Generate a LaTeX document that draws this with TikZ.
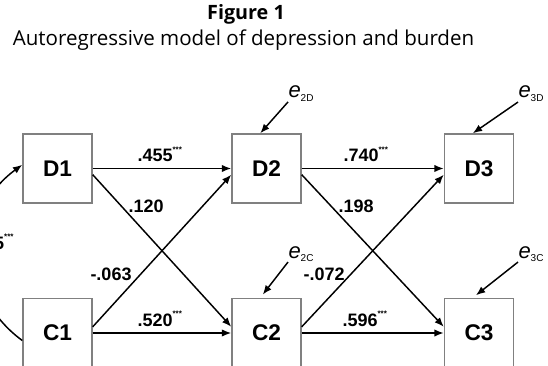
\documentclass[tikz,border=0pt]{standalone}
\usepackage{fontspec}
\setmainfont{Liberation Sans}
\newfontfamily\titlefont{Open Sans}
\usetikzlibrary{arrows.meta}

\tikzset{every picture/.style={line width=0.75pt}}
\newcommand{\stars}{\raisebox{0.55em}{\fontsize{6}{6}\selectfont ***}}

\begin{document}
\begin{tikzpicture}[x=0.75pt,y=0.75pt,yscale=-1,xscale=1,
  var/.style={draw={rgb, 255:red, 128; green, 128; blue, 128},line width=1.1pt,minimum width=51.75pt,minimum height=51.75pt,inner sep=0pt,font=\fontsize{17}{20}\selectfont\bfseries},
  link/.style={-{Latex[length=7pt,width=5.5pt]},line width=1.1pt},
  coef/.style={anchor=base west,inner sep=0pt,font=\fontsize{13.5}{16}\selectfont\bfseries},
  err/.style={anchor=base west,inner sep=0pt,font=\fontsize{16.5}{18}\selectfont}]
\useasboundingbox (0,0) rectangle (548,366);
\clip (0,0) rectangle (548,366);

% Text Node
\node (title) at (246,20) [anchor=base,inner sep=0pt,font=\titlefont\fontsize{14.8}{17}\selectfont\bfseries] {Figure 1};
% Text Node
\node (subtitle) at (243.5,46) [anchor=base,inner sep=0pt,font=\titlefont\fontsize{15.4}{17}\selectfont] {Autoregressive model of depression and burden};

%Shape: Square
\node [var] (D1) at (57.5,168.5) {D1};
\node [var] (D2) at (266.5,168.5) {D2};
\node [var] (D3) at (479,168.5) {D3};
\node [var] (C1) at (57.5,333) {C1};
\node [var] (C2) at (266.5,333) {C2};
\node [var] (C3) at (479,333) {C3};

%Straight Lines
\draw [link] (D1.east) -- (D2.west);
\draw [link] (D2.east) -- (D3.west);
\draw [link] (C1.east) -- (C2.west);
\draw [link] (C2.east) -- (C3.west);
\draw [link] (D1.-10) -- (C2.170);
\draw [link] (C1.10) -- (D2.190);
\draw [link] (D2.-10) -- (C3.170);
\draw [link] (C2.10) -- (D3.190);

%Curve Lines
\draw [link,{Latex[length=7pt,width=5.5pt]}-] (D1.174) .. controls (-40,210) and (-40,295) .. (C1.192);

% Text Node
\node [coef] (b455) at (137,162) {.455\stars};
\node [coef] (b740) at (343,162) {.740\stars};
\node [coef] (b120) at (128,213) {.120};
\node [coef] (b063) at (90,280) {-.063};
\node [coef] (b520) at (137,326) {.520\stars};
\node [coef] (b198) at (338,213) {.198};
\node [coef] (b072) at (303,280) {-.072};
\node [coef] (b596) at (342,326) {.596\stars};
\node [coef,anchor=base east] (bdc) at (14,249) {5\stars};

% Text Node
\node [err] (e2D) at (288,98) {\textit{e}\textsubscript{\fontsize{7.5}{8}\selectfont 2D}};
\node [err] (e3D) at (518,98) {\textit{e}\textsubscript{\fontsize{7.5}{8}\selectfont 3D}};
\node [err] (e2C) at (288,258) {\textit{e}\textsubscript{\fontsize{7.5}{8}\selectfont 2C}};
\node [err] (e3C) at (518,258) {\textit{e}\textsubscript{\fontsize{7.5}{8}\selectfont 3C}};

%Straight Lines
\draw [link] (e2D.south west) -- (D2.100);
\draw [link] (e3D.south west) -- (D3.100);
\draw [link,shorten >=3pt] (e2C.south west) -- (C2.100);
\draw [link,shorten >=3pt] (e3C.south west) -- (C3.100);

\end{tikzpicture}
\end{document}
